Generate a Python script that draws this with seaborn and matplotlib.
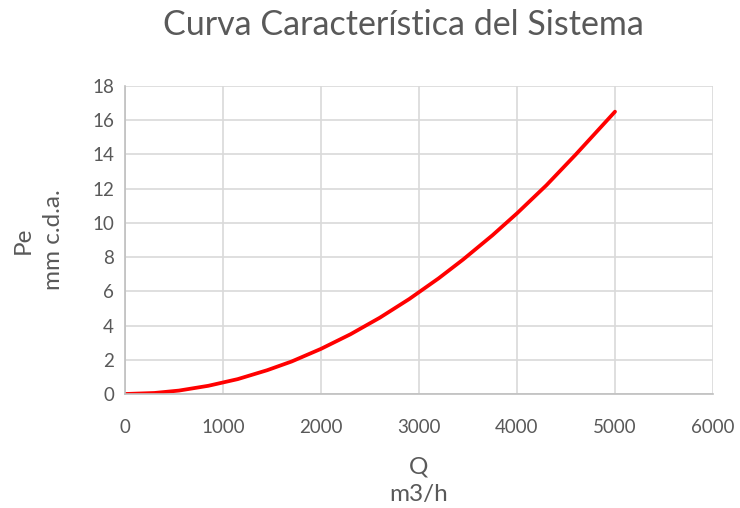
import matplotlib
matplotlib.use("Agg")
import matplotlib.pyplot as plt
import seaborn as sns
import pandas as pd

q_values = [0, 300, 550, 850, 1150, 1450, 1700, 2000, 2300, 2600, 2900, 3200, 3450, 3750, 4000, 4300, 4600, 5000]
pe_values = [0, 0.06, 0.2, 0.48, 0.87, 1.39, 1.9, 2.64, 3.49, 4.46, 5.55, 6.76, 7.86, 9.28, 10.56, 12.2, 14.0, 16.5]

x_ticks = [0, 1000, 2000, 3000, 4000, 5000, 6000]
y_ticks = [0, 2, 4, 6, 8, 10, 12, 14, 16, 18]

df = pd.DataFrame({"Q": q_values, "Pe": pe_values})

sns.set_theme(style="white")
plt.rcParams['font.family'] = ['Lato', 'DejaVu Sans']
text_color = "#595959"

fig = plt.figure(figsize=(7.4, 5.08), dpi=100)
ax = fig.add_axes([0.169, 0.2244, 0.7945, 0.6063])

sns.lineplot(data=df, x="Q", y="Pe", ax=ax, color="#ff0000", linewidth=2.7, sort=False)

ax.set_xlim(0, 6000)
ax.set_ylim(0, 18)
ax.set_xticks(x_ticks)
ax.set_yticks(y_ticks)
ax.set_xticklabels([str(v) for v in x_ticks])
ax.set_yticklabels([str(v) for v in y_ticks])
ax.grid(True, color="#d9d9d9", linewidth=1.2)
ax.set_axisbelow(True)
for s in ["top", "right"]:
    ax.spines[s].set_visible(False)
for s in ["left", "bottom"]:
    ax.spines[s].set_color("#bfbfbf")
    ax.spines[s].set_linewidth(1.2)
ax.tick_params(axis="both", length=0, labelsize=13.5, colors=text_color, pad=8)
ax.tick_params(axis="x", pad=18)

ax.set_xlabel("")
ax.set_ylabel("")
fig.text(419 / 740, 1 - 467 / 508, "Q", fontsize=17.5, color=text_color, ha="center", va="center")
fig.text(419 / 740, 1 - 495 / 508, "m3/h", fontsize=17.5, color=text_color, ha="center", va="center")
fig.text(23 / 740, 1 - 240 / 508, "Pe", fontsize=17.5, color=text_color, ha="center", va="center", rotation=90)
fig.text(53 / 740, 1 - 240 / 508, "mm c.d.a.", fontsize=17.5, color=text_color, ha="center", va="center", rotation=90)
fig.text(403 / 740, 1 - 25 / 508, "Curva Característica del Sistema", fontsize=24.5, color=text_color, ha="center", va="center")

fig.savefig("out.png", dpi=100)
